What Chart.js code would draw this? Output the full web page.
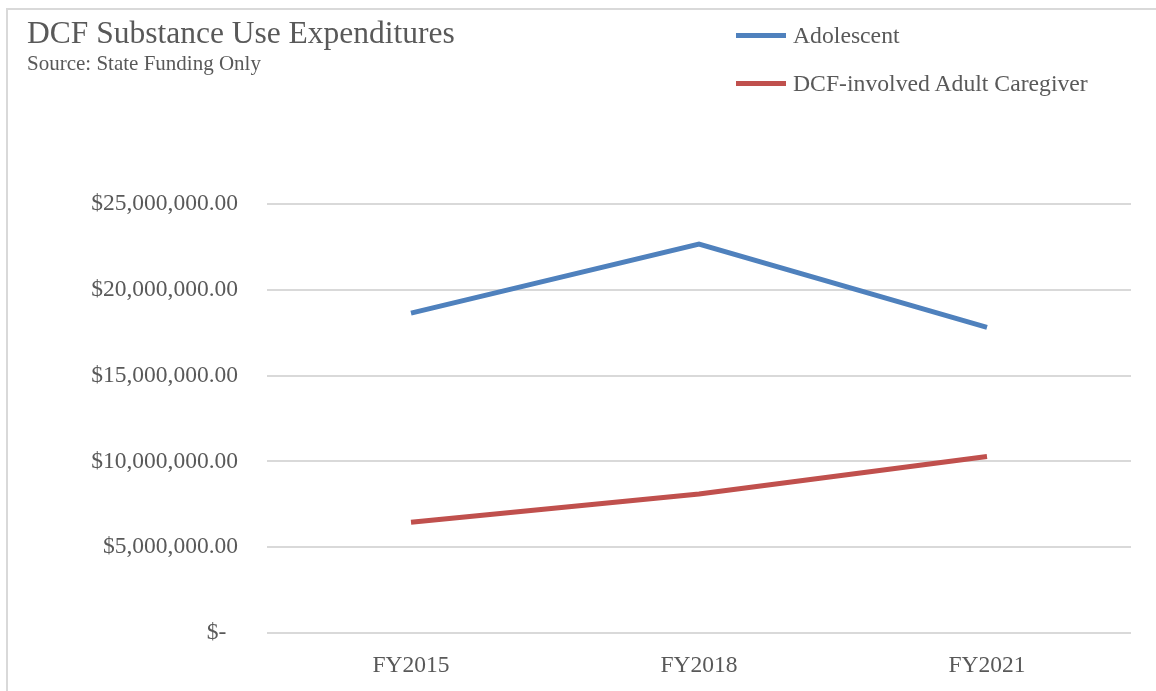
<!DOCTYPE html>
<html>
<head>
<meta charset="utf-8">
<script src="https://cdn.jsdelivr.net/npm/chart.js@4"></script>
<style>
  html, body { margin: 0; padding: 0; background: #fff; }
  #wrap { position: relative; width: 1156px; height: 691px; overflow: hidden; }
  #frame {
    position: absolute; left: 6px; top: 8px; width: 1200px; height: 720px;
    border-left: 2px solid #d9d9d9; border-top: 2px solid #d9d9d9;
  }
  #title {
    position: absolute; left: 27px; top: 15px;
    font: 31.5px "Liberation Serif", serif; color: #595959; white-space: nowrap;
  }
  #subtitle {
    position: absolute; left: 27px; top: 51px;
    font: 21px "Liberation Serif", serif; color: #595959; white-space: nowrap;
  }
  #legend { position: absolute; left: 736px; top: 20px; }
  .item { height: 48px; display: flex; align-items: flex-start; }
  .swatch { width: 50px; height: 5px; margin-top: 13px; margin-right: 7px; }
  .item span { font: 23.7px "Liberation Serif", serif; color: #595959; line-height: 30px; }
  canvas { position: absolute; left: 0; top: 0; }
</style>
</head>
<body>
<div id="wrap">
  <div id="frame"></div>
  <canvas id="chart" width="1156" height="691"></canvas>
  <div id="title">DCF Substance Use Expenditures</div>
  <div id="subtitle">Source: State Funding Only</div>
  <div id="legend"></div>
</div>

<script>
// data
const years = ["FY2015", "FY2018", "FY2021"];
const adolescent = [18640000, 22660000, 17810000];
const caregiver = [6450000, 8100000, 10290000];
const yTicks = [0, 5000000, 10000000, 15000000, 20000000, 25000000];

const grey = "#595959";

function money(v) {
  if (v === 0) return "$-  ";
  return "$" + v.toLocaleString("en-US", { minimumFractionDigits: 2, maximumFractionDigits: 2 });
}

const chart = new Chart(document.getElementById("chart"), {
  type: "line",
  data: {
    labels: years,
    datasets: [
      { label: "Adolescent", data: adolescent, borderColor: "#4f81bd", borderWidth: 5 },
      { label: "DCF-involved Adult Caregiver", data: caregiver, borderColor: "#c0504d", borderWidth: 5 }
    ]
  },
  options: {
    responsive: false,
    animation: false,
    layout: { padding: { top: 204, right: 25, bottom: 0, left: 0 } },
    elements: { point: { radius: 0 }, line: { tension: 0, borderCapStyle: "butt" } },
    plugins: { legend: { display: false }, tooltip: { enabled: false } },
    scales: {
      x: {
        offset: true,
        grid: { display: false, offset: true },
        border: { display: false },
        ticks: { color: grey, padding: 11, font: { family: "Liberation Serif", size: 23.5 } },
        afterFit: s => { s.height = 58; }
      },
      y: {
        min: 0,
        max: 25000000,
        afterBuildTicks: s => { s.ticks = yTicks.map(v => ({ value: v })); },
        grid: { color: "#d9d9d9", lineWidth: 2, drawTicks: false },
        border: { display: false },
        ticks: { color: grey, padding: 29, callback: money, font: { family: "Liberation Serif", size: 23.5 } },
        afterFit: s => { s.width = 267; }
      }
    }
  }
});

// legend stacked on two rows, like the original
const legend = document.getElementById("legend");
chart.data.datasets.forEach(ds => {
  const row = document.createElement("div");
  row.className = "item";
  row.innerHTML = '<div class="swatch" style="background:' + ds.borderColor + '"></div><span>' + ds.label + "</span>";
  legend.appendChild(row);
});
</script>
</body>
</html>
